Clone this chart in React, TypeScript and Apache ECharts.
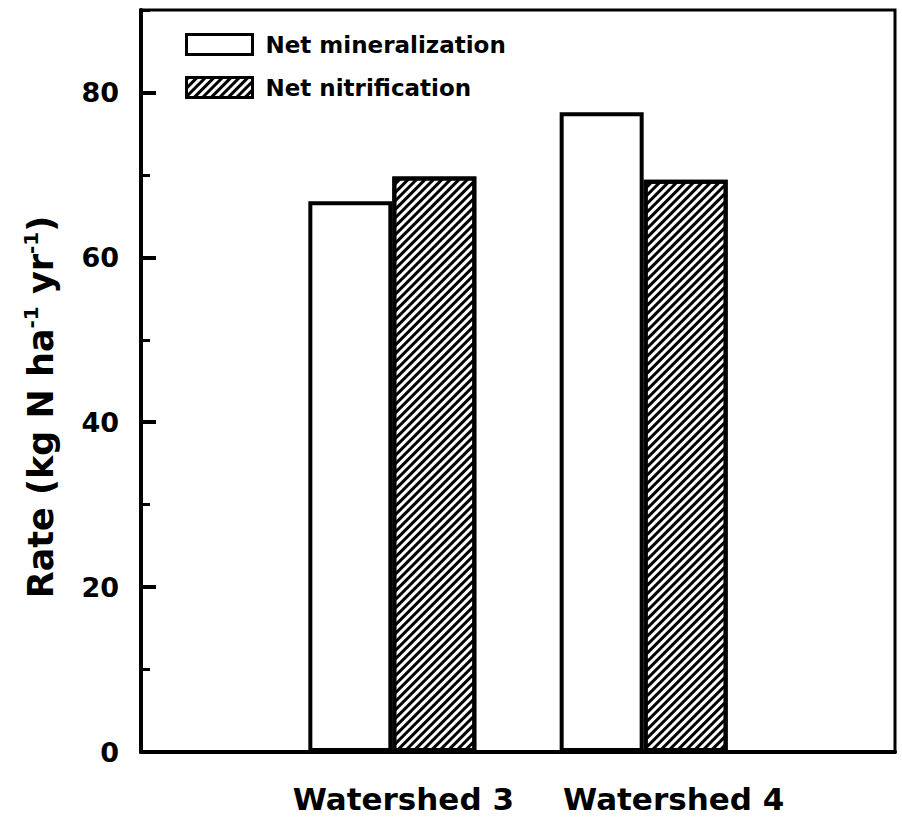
import React, { useEffect, useRef } from "react";
import * as echarts from "echarts";

const categories = ["", "Watershed 3", "Watershed 4", ""];
const seriesNames = ["Net mineralization", "Net nitrification"];
const mineralization = [null, 66.8, 77.6, null];
const nitrification = [null, 69.8, 69.4, null];
const yMin = 0;
const yMax = 90;
const yMajor = 20;
const yMinor = 10;

const FONT = "DejaVu Sans";

export default function App() {
  const ref = useRef<HTMLDivElement>(null);
  useEffect(() => {
    if (!ref.current) return;
    const chart = echarts.init(ref.current, null, { renderer: "svg" });
    const hatch = {
      symbol: "rect",
      symbolSize: 1,
      symbolKeepAspect: false,
      color: "#000",
      backgroundColor: "#fff",
      dashArrayX: [1, 0],
      dashArrayY: [2.5, 2.5],
      rotation: -Math.PI / 4,
    };
    chart.setOption({
      animation: false,
      backgroundColor: "#fff",
      grid: {
        left: 141,
        right: 7,
        top: 10,
        bottom: 73,
        show: true,
        borderColor: "#000",
        borderWidth: 3,
        backgroundColor: "transparent",
      },
      legend: {
        orient: "vertical",
        left: 180,
        top: 28,
        itemWidth: 66,
        itemHeight: 20,
        itemGap: 20,
        icon: "rect",
        selectedMode: false,
        itemStyle: { borderColor: "#000", borderWidth: 3 },
        textStyle: {
          fontFamily: FONT,
          fontWeight: "bold",
          fontSize: 23,
          color: "#000",
          padding: [0, 0, 0, 8],
        },
        data: seriesNames,
      },
      xAxis: {
        type: "category",
        data: categories,
        boundaryGap: false,
        axisLine: { lineStyle: { color: "#000", width: 4 } },
        axisTick: { show: false },
        splitLine: { show: false },
        axisLabel: {
          margin: 31,
          interval: 0,
          formatter: (v: string) =>
            v === categories[1] ? "{a|" + v + "}" : v ? "{b|" + v + "}" : "",
          rich: {
            a: {
              fontFamily: FONT,
              fontWeight: "bold",
              fontSize: 31,
              color: "#000",
              padding: [0, 0, 0, 22],
            },
            b: {
              fontFamily: FONT,
              fontWeight: "bold",
              fontSize: 31,
              color: "#000",
              padding: [0, 0, 0, 60],
            },
          },
        },
      },
      yAxis: [
        {
          type: "value",
          min: yMin,
          max: yMax,
          interval: yMajor,
          position: "left",
          axisLine: { show: true, lineStyle: { color: "#000", width: 4 } },
          axisTick: { show: true, inside: true, length: 15, lineStyle: { color: "#000", width: 4 } },
          splitLine: { show: false },
          axisLabel: {
            showMaxLabel: false,
            margin: 22,
            fontFamily: FONT,
            fontWeight: "bold",
            fontSize: 27,
            color: "#000",
          },
          nameLocation: "middle",
          nameGap: 80,
          name: "{t|Rate (kg N ha}{s|-1}{t| yr}{s|-1}{t|)}",
          nameTextStyle: {
            padding: [0, 52, 0, 0],
            rich: {
              t: { fontFamily: FONT, fontWeight: "bold", fontSize: 35, color: "#000", lineHeight: 40 },
              s: {
                fontFamily: FONT,
                fontWeight: "bold",
                fontSize: 20,
                color: "#000",
                lineHeight: 22,
                verticalAlign: "top",
              },
            },
          },
        },
        {
          type: "value",
          min: yMin,
          max: yMax,
          interval: yMinor,
          position: "left",
          axisLine: { show: false },
          axisTick: { show: true, inside: true, length: 9, lineStyle: { color: "#000", width: 3 } },
          splitLine: { show: false },
          axisLabel: { show: false },
        },
      ],
      series: [
        {
          name: seriesNames[0],
          type: "bar",
          data: mineralization,
          barWidth: 84,
          barGap: "0%",
          itemStyle: { color: "#fff", borderColor: "#000", borderWidth: 4 },
        },
        {
          name: seriesNames[1],
          type: "bar",
          data: nitrification,
          barWidth: 84,
          barGap: "0%",
          itemStyle: { color: "#fff", borderColor: "#000", borderWidth: 4, decal: hatch },
        },
      ],
    });
    return () => chart.dispose();
  }, []);
  return (
    <div
      ref={ref}
      style={{ position: "absolute", left: 0, top: 0, width: 902, height: 825 }}
    />
  );
}
